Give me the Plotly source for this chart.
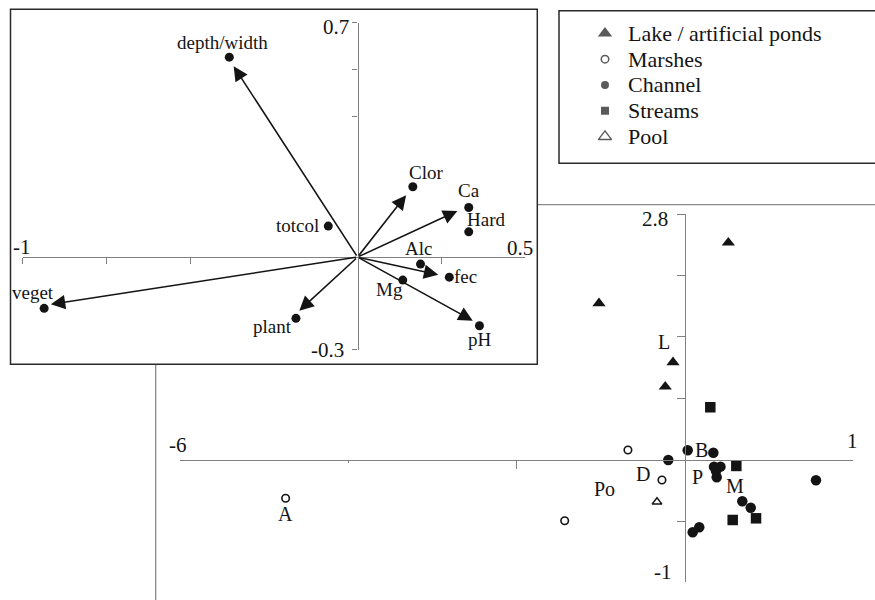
import plotly.graph_objects as go

W, H = 875, 600
FONT = "Liberation Serif, Times New Roman, serif"
INK = "#141414"
AXIS = "#808080"

# ---------------- data ----------------
# Inset: environmental variables (biplot scores)
var_names = ["depth/width", "Clor", "Ca", "Hard", "totcol", "Alc", "fec", "Mg", "pH", "plant", "veget"]
var_x = [-0.383, 0.165, 0.332, 0.332, -0.0875, 0.188, 0.274, 0.135, 0.364, -0.184, -0.936]
var_y = [0.597, 0.210, 0.148, 0.0755, 0.0925, -0.021, -0.060, -0.0687, -0.205, -0.183, -0.153]

# Inset arrows (heads)
arrow_names = ["depth/width", "Clor", "Ca/Hard", "fec", "pH", "plant", "veget"]
arrow_x = [-0.370, 0.145, 0.298, 0.241, 0.344, -0.174, -0.916]
arrow_y = [0.570, 0.185, 0.138, -0.0528, -0.190, -0.160, -0.141]

# Main plot: sites by habitat type
lake_x = [0.511, -1.025, -0.146, -0.238]
lake_y = [2.473, 1.784, 1.112, 0.834]
marsh_x = [-0.681, -0.277, -1.432, -4.746]
marsh_y = [0.114, -0.228, -0.691, -0.436]
channel_x = [-0.202, 0.0285, 0.333, 0.341, 0.418, 0.373, 0.365, 0.677, 0.777, 1.552, 0.088, 0.166]
channel_y = [0.0, 0.110, 0.083, -0.076, -0.076, -0.197, -0.125, -0.470, -0.543, -0.231, -0.823, -0.766]
stream_x = [0.297, 0.606, 0.563, 0.840]
stream_y = [0.600, -0.068, -0.683, -0.664]
pool_x = [-0.336]
pool_y = [-0.478]

site_labels = ["L", "A", "D", "Po", "B", "P", "M"]
site_label_x = [-0.249, -4.746, -0.506, -0.962, 0.195, 0.147, 0.590]
site_label_y = [1.346, -0.615, -0.159, -0.333, 0.114, -0.190, -0.293]

legend_labels = ["Lake / artificial ponds", "Marshes", "Channel", "Streams", "Pool"]

# Axis ranges / ticks
main_x_range = [-6, 1.995]
main_y_range = [-1.389, 2.8]
main_x_ticks = [-2]
main_x_minor = [-4]
main_y_ticks = [2.8, 2.1, 1.4, 0.7, -0.7]
inset_x_range = [-1, 0.5]
inset_y_range = [-0.276, 0.7]
inset_x_ticks = [-1, -0.75, -0.5, 0.25]
inset_y_ticks = [0.7, 0.56, 0.42, -0.276]

# ---------------- layout helpers (pixel -> paper) ----------------
def fx(px):
    return px / W


def fy(py):
    return 1 - py / H


def zero_pos(rng, dom):
    return dom[0] + (0 - rng[0]) / (rng[1] - rng[0]) * (dom[1] - dom[0])


main_xd = [fx(180), fx(853.3)]
main_yd = [fy(582), fy(214)]
ins_xd = [fx(22.7), fx(525)]
ins_yd = [fy(349.5), fy(22.7)]
leg_xd = [fx(559), fx(874)]
leg_yd = [fy(163.3), fy(10.7)]

fig = go.Figure()

# ---------------- main plot traces ----------------
fig.add_trace(go.Scatter(x=lake_x, y=lake_y, mode="markers", name=legend_labels[0],
                         marker=dict(symbol="triangle-up", size=11.5, color=INK, line=dict(width=0))))
fig.add_trace(go.Scatter(x=marsh_x, y=marsh_y, mode="markers", name=legend_labels[1],
                         marker=dict(symbol="circle-open", size=7.5, color=INK, line=dict(width=1.6, color=INK))))
fig.add_trace(go.Scatter(x=channel_x, y=channel_y, mode="markers", name=legend_labels[2],
                         marker=dict(symbol="circle", size=10.5, color=INK, line=dict(width=0))))
fig.add_trace(go.Scatter(x=stream_x, y=stream_y, mode="markers", name=legend_labels[3],
                         marker=dict(symbol="square", size=10.5, color=INK, line=dict(width=0))))
fig.add_trace(go.Scatter(x=pool_x, y=pool_y, mode="markers", name=legend_labels[4],
                         marker=dict(symbol="triangle-up-open", size=8.5, color=INK, line=dict(width=1.5, color=INK))))

# ---------------- inset traces ----------------
fig.add_trace(go.Scatter(x=var_x, y=var_y, mode="markers", xaxis="x2", yaxis="y2",
                         name="variables", text=var_names,
                         marker=dict(symbol="circle", size=9, color=INK, line=dict(width=0))))

# ---------------- legend (drawn on its own hidden axes) ----------------
leg_rows = list(range(1, len(legend_labels) + 1))
fig.add_trace(go.Scatter(x=[0.146] * len(leg_rows), y=leg_rows, mode="markers", xaxis="x3", yaxis="y3",
                         name="legend",
                         marker=dict(symbol=["triangle-up", "circle-open", "circle", "square", "triangle-up-open"],
                                     size=[12.5, 7.5, 8, 8, 11.5], color=INK,
                                     line=dict(width=[0, 1.5, 0, 0, 1.4], color=INK))))

annotations = []
for i, lab in enumerate(legend_labels):
    annotations.append(dict(x=0.213, y=leg_rows[i], xref="x3", yref="y3", text=lab, showarrow=False,
                            xanchor="left", yanchor="middle", font=dict(family=FONT, size=22, color=INK)))

# inset arrows
for ax_, ay_ in zip(arrow_x, arrow_y):
    annotations.append(dict(x=ax_, y=ay_, ax=0, ay=0, xref="x2", yref="y2", axref="x2", ayref="y2",
                            text="", showarrow=True, arrowhead=2, arrowsize=1.8, arrowwidth=1.6,
                            arrowcolor=INK, standoff=0, startstandoff=0))

# inset variable labels (pixel offsets from the dot: dx right, dy down)
label_offsets = {
    "depth/width": (-6.7, -15), "Clor": (13.4, -14), "Ca": (0, -17), "Hard": (17, -12),
    "totcol": (-31, -1), "Alc": (-1.7, -16), "fec": (16.5, -1), "Mg": (-13, 9),
    "pH": (1, 14), "plant": (-23, 8), "veget": (-11, -16),
}
for n, x_, y_ in zip(var_names, var_x, var_y):
    dx, dy = label_offsets[n]
    annotations.append(dict(x=x_, y=y_, xref="x2", yref="y2", text=n, showarrow=False,
                            xanchor="center", yanchor="middle", xshift=dx, yshift=-dy,
                            font=dict(family=FONT, size=19, color=INK)))

# site labels in main plot
for t, x_, y_ in zip(site_labels, site_label_x, site_label_y):
    annotations.append(dict(x=x_, y=y_, xref="x", yref="y", text=t, showarrow=False,
                            xanchor="center", yanchor="middle",
                            font=dict(family=FONT, size=20, color=INK)))

# axis end labels (as in the original figure)
end_labels = [
    ("2.8", 669.5, 219, "right"), ("-1", 673.5, 572, "right"),
    ("-6", 177.5, 445, "center"), ("1", 852, 441, "center"),
    ("0.7", 351, 27, "right"), ("-0.3", 345.5, 350, "right"),
    ("-1", 22, 247, "center"), ("0.5", 520, 248, "center"),
]
for t, px, py, anc in end_labels:
    annotations.append(dict(x=fx(px), y=fy(py), xref="paper", yref="paper", text=t, showarrow=False,
                            xanchor=anc, yanchor="middle", font=dict(family=FONT, size=21, color=INK)))

shapes = [
    # main plot frame (partly hidden by the inset)
    dict(type="rect", xref="paper", yref="paper", x0=fx(155.7), x1=1.05, y0=-0.05, y1=fy(204.7),
         line=dict(color="#8a8a8a", width=1.3), fillcolor="rgba(0,0,0,0)", layer="below"),
    # inset frame
    dict(type="rect", xref="paper", yref="paper", x0=fx(10.5), x1=fx(537.3), y0=fy(364.3), y1=fy(9.3),
         line=dict(color="#2a2a2a", width=1.5), fillcolor="white", layer="below"),
    # legend frame
    dict(type="rect", xref="paper", yref="paper", x0=fx(559), x1=1.05, y0=fy(163.3), y1=fy(10.7),
         line=dict(color="#2a2a2a", width=1.5), fillcolor="white", layer="below"),
]

hidden = dict(showgrid=False, zeroline=False, showticklabels=False, ticks="", showline=False)

fig.update_layout(
    width=W, height=H,
    margin=dict(l=0, r=0, t=0, b=0),
    paper_bgcolor="white", plot_bgcolor="rgba(0,0,0,0)",
    showlegend=False,
    font=dict(family=FONT, color=INK),
    xaxis=dict(domain=main_xd, range=main_x_range, anchor="free",
               position=zero_pos(main_y_range, main_yd),
               showline=True, linecolor=AXIS, linewidth=1.3, showgrid=False, zeroline=False,
               tickmode="array", tickvals=main_x_ticks, ticks="outside", ticklen=8, tickwidth=1.2,
               tickcolor=AXIS, showticklabels=False,
               minor=dict(tickmode="array", tickvals=main_x_minor, ticks="outside", ticklen=2,
                          tickcolor=AXIS, tickwidth=1, showgrid=False)),
    yaxis=dict(domain=main_yd, range=main_y_range, anchor="free",
               position=zero_pos(main_x_range, main_xd),
               showline=True, linecolor=AXIS, linewidth=1.3, showgrid=False, zeroline=False,
               tickmode="array", tickvals=main_y_ticks, ticks="outside", ticklen=8.5, tickwidth=1.2,
               tickcolor=AXIS, showticklabels=False),
    xaxis2=dict(domain=ins_xd, range=inset_x_range, anchor="free",
                position=zero_pos(inset_y_range, ins_yd),
                showline=True, linecolor=AXIS, linewidth=1.2, showgrid=False, zeroline=False,
                tickmode="array", tickvals=inset_x_ticks, ticks="outside", ticklen=5.5, tickwidth=1.1,
                tickcolor=AXIS, showticklabels=False),
    yaxis2=dict(domain=ins_yd, range=inset_y_range, anchor="free",
                position=zero_pos(inset_x_range, ins_xd),
                showline=True, linecolor=AXIS, linewidth=1.2, showgrid=False, zeroline=False,
                tickmode="array", tickvals=inset_y_ticks, ticks="outside", ticklen=5.5, tickwidth=1.1,
                tickcolor=AXIS, showticklabels=False),
    xaxis3=dict(domain=leg_xd, range=[0, 1], anchor="y3", **hidden),
    yaxis3=dict(domain=leg_yd, range=[6.03, 0.126], anchor="x3", **hidden),
    annotations=annotations,
    shapes=shapes,
)

# remove the browser's default 8px body margin so the figure sits at the page origin
fig.write_html("out.html", config={"displayModeBar": False},
               post_script="document.body.style.margin='0px';document.body.style.overflow='hidden';")
